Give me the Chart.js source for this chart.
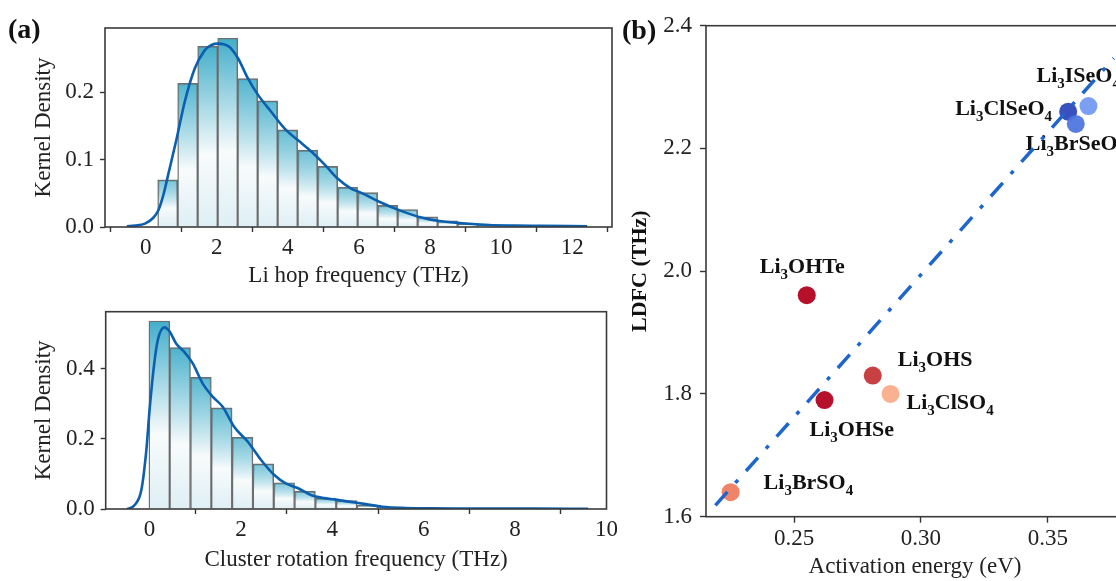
<!DOCTYPE html>
<html><head><meta charset="utf-8">
<script src="https://cdn.jsdelivr.net/npm/chart.js@4.4.1/dist/chart.umd.min.js"></script>
<style>
html,body{margin:0;padding:0;background:#fff;overflow:hidden;}
#wrap{position:relative;width:1116px;height:581px;overflow:hidden;background:#fff;}
canvas{position:absolute;}
.panel{position:absolute;font-family:'Liberation Serif',serif;font-weight:bold;font-size:28px;line-height:34px;color:#111;}
</style></head>
<body><div id="wrap">
<canvas id="c1" width="620" height="290" style="left:0;top:0"></canvas>
<canvas id="c2" width="620" height="291" style="left:0;top:290px"></canvas>
<canvas id="c3" width="520" height="581" style="left:620px;top:0"></canvas>
<div class="panel" style="left:8px;top:12px">(a)</div>
<div class="panel" style="left:622px;top:13px">(b)</div>
</div>
<script>
// ---------- (a) top: Li hop frequency ----------
const hopBinCenters = [0.619, 1.181, 1.744, 2.307, 2.869, 3.432, 3.994, 4.557, 5.120, 5.682, 6.245, 6.808, 7.370, 7.933, 8.495, 9.058, 9.621, 10.183];
const hopDensity    = [0.070, 0.213, 0.268, 0.280, 0.220, 0.187, 0.144, 0.114, 0.090, 0.059, 0.051, 0.032, 0.026, 0.015, 0.009, 0.005, 0.003, 0.002];
const hopKdeX = [-0.53, -0.3, -0.02, 0.2, 0.35, 0.5, 0.63, 0.87, 1.10, 1.38, 1.66, 1.85, 2.04, 2.2, 2.36, 2.60, 2.88, 3.16, 3.53, 3.91, 4.28, 4.66, 5.03, 5.40, 5.78, 6.05, 6.57, 7.13, 7.69, 8.26, 8.91, 9.66, 10.4, 11.15, 12.42];
const hopKdeY = [0.001, 0.002, 0.005, 0.013, 0.024, 0.048, 0.077, 0.131, 0.186, 0.235, 0.262, 0.270, 0.272, 0.271, 0.267, 0.250, 0.220, 0.196, 0.171, 0.146, 0.129, 0.112, 0.093, 0.072, 0.057, 0.051, 0.0375, 0.025, 0.015, 0.009, 0.0055, 0.003, 0.0022, 0.0018, 0.001];
const hopTicks = [0, 2, 4, 6, 8, 10, 12];
const hopDensityTicks = [0, 0.1, 0.2];

// ---------- (a) bottom: Cluster rotation frequency ----------
const rotBinCenters = [0.213, 0.668, 1.124, 1.579, 2.035, 2.490, 2.946, 3.401, 3.857, 4.312, 4.768, 5.223, 5.679, 6.134];
const rotDensity    = [0.537, 0.461, 0.376, 0.289, 0.205, 0.129, 0.075, 0.051, 0.031, 0.024, 0.011, 0.006, 0.003, 0.002];
const rotKdeX = [-0.49, -0.33, -0.18, -0.07, 0.0, 0.094, 0.18, 0.327, 0.44, 0.58, 0.76, 0.945, 1.16, 1.38, 1.60, 1.85, 2.15, 2.44, 2.73, 2.98, 3.24, 3.53, 3.82, 4.11, 4.36, 4.73, 5.09, 5.6, 6.18, 6.91, 7.64, 8.36, 9.6];
const rotKdeY = [0.0, 0.011, 0.054, 0.169, 0.283, 0.407, 0.483, 0.519, 0.507, 0.473, 0.449, 0.416, 0.359, 0.321, 0.292, 0.235, 0.192, 0.140, 0.097, 0.073, 0.060, 0.040, 0.031, 0.026, 0.021, 0.014, 0.0066, 0.003, 0.002, 0.0015, 0.001, 0.001, 0.0005];
const rotTicks = [0, 2, 4, 6, 8, 10];
const rotDensityTicks = [0, 0.2, 0.4];

// ---------- (b) scatter ----------
const materials = ['Li3ISeO4', 'Li3ClSeO4', 'Li3BrSeO4', 'Li3OHTe', 'Li3OHS', 'Li3ClSO4', 'Li3OHSe', 'Li3BrSO4'];
const activationEnergy = [0.366, 0.358, 0.361, 0.255, 0.281, 0.288, 0.262, 0.225];
const ldfc = [2.269, 2.260, 2.240, 1.961, 1.830, 1.800, 1.790, 1.640];
const fitX = [0.219, 0.376];
const fitY = [1.6185, 2.347];
const energyTicks = [0.25, 0.30, 0.35];
const ldfcTicks = [1.6, 1.8, 2.0, 2.2, 2.4];

// styles (not data)
const pointColors = ['rgba(112,152,242,0.92)', 'rgba(40,66,185,0.92)', 'rgba(75,115,222,0.92)', 'rgba(178,4,32,0.95)', 'rgba(196,48,50,0.92)', 'rgba(250,170,135,0.92)', 'rgba(178,4,32,0.95)', 'rgba(238,122,92,0.92)'];
const labelOffsets = [[-52, -24], [-113, 3], [-50, 26], [-47, -22], [25, -10], [16, 15], [-15, 36], [33, -3]];

Chart.defaults.font.family = "'Liberation Serif', 'Times New Roman', serif";
Chart.defaults.color = '#222';

const frame = {
  id: 'frame',
  afterDatasetsDraw(chart) {
    const {ctx, chartArea: a} = chart;
    ctx.save();
    ctx.strokeStyle = '#3a3a3a';
    ctx.lineWidth = 1.6;
    ctx.strokeRect(a.left, a.top, a.right - a.left, a.bottom - a.top);
    ctx.restore();
  }
};

function barGradient(maxV) {
  return (c) => {
    const chart = c.chart;
    if (!chart.chartArea || c.type !== 'data') return 'rgba(75,180,205,0.8)';
    const ys = chart.scales.y;
    const v = c.raw.y;
    const top = ys.getPixelForValue(v), base = ys.getPixelForValue(0);
    if (!(base > top)) return 'rgba(120,195,215,0.8)';
    const g = chart.ctx.createLinearGradient(0, top, 0, base);
    const a = 0.6 + 0.4 * v / maxV;
    g.addColorStop(0, 'rgba(66,174,202,' + a + ')');
    g.addColorStop(0.6, 'rgba(248,251,252,1)');
    g.addColorStop(1, 'rgba(222,239,245,1)');
    return g;
  };
}

function histChart(id, centers, dens, kx, ky, o) {
  const maxV = Math.max(...dens);
  return new Chart(document.getElementById(id), {
    type: 'bar',
    data: {
      datasets: [
        { type: 'line', data: kx.map((x, i) => ({x, y: ky[i]})), borderColor: '#0b5fae', borderWidth: 2.6,
          pointRadius: 0, cubicInterpolationMode: 'monotone', fill: false, order: 0 },
        { type: 'bar', data: centers.map((x, i) => ({x, y: dens[i]})), backgroundColor: barGradient(maxV),
          borderColor: 'rgba(95,95,95,0.9)', borderWidth: 1.4, barPercentage: 1, categoryPercentage: 1, order: 1 }
      ]
    },
    options: {
      responsive: false, animation: false, devicePixelRatio: 1,
      layout: {padding: {top: o.padTop, right: o.padRight, left: 0, bottom: 0}},
      plugins: {legend: {display: false}, tooltip: {enabled: false}},
      scales: {
        x: {
          type: 'linear', min: o.xmin, max: o.xmax, offset: false,
          afterBuildTicks: s => { s.ticks = o.xticks.map(v => ({value: v})); },
          afterFit: s => { s.height = o.xh; },
          grid: {display: true, drawOnChartArea: false, drawTicks: true, tickLength: 5, tickColor: '#333', tickWidth: 1.4},
          border: {display: false},
          ticks: {padding: o.xtp, color: '#222', font: {size: 23}, maxRotation: 0, autoSkip: false, callback: v => String(v)},
          title: {display: true, text: o.xtitle, color: '#222', font: {size: 23}, padding: {top: 0, bottom: o.xtitlePad}}
        },
        y: {
          min: 0, max: o.ymax,
          afterBuildTicks: s => { s.ticks = o.yticks.map(v => ({value: v})); },
          afterFit: s => { s.width = o.yw; },
          grid: {display: true, drawOnChartArea: false, drawTicks: true, tickLength: 5, tickColor: '#333', tickWidth: 1.4},
          border: {display: false},
          ticks: {padding: 6, color: '#222', font: {size: 23}, callback: v => v.toFixed(1)},
          title: {display: true, text: 'Kernel Density', color: '#222', font: {size: 23}, padding: {top: 30, bottom: 0}}
        }
      }
    },
    plugins: [frame]
  });
}

histChart('c1', hopBinCenters, hopDensity, hopKdeX, hopKdeY, {
  padTop: 28, padRight: 8, xmin: -1.145, xmax: 13.12, xticks: hopTicks, xh: 63, xtp: 2,
  xtitle: 'Li hop frequency (THz)', xtitlePad: 0, ymax: 0.2952, yticks: hopDensityTicks, yw: 105
});
histChart('c2', rotBinCenters, rotDensity, rotKdeX, rotKdeY, {
  padTop: 21.7, padRight: 8.3, xmin: -0.96, xmax: 10.0, xticks: rotTicks, xh: 72, xtp: 2,
  xtitle: 'Cluster rotation frequency (THz)', xtitlePad: 7, ymax: 0.5637, yticks: rotDensityTicks, yw: 105.7
});

function drawChem(ctx, s, x, y) {
  ctx.textBaseline = 'alphabetic';
  ctx.textAlign = 'left';
  ctx.fillStyle = '#111';
  for (const part of s.match(/\d+|\D+/g)) {
    if (/\d/.test(part)) {
      ctx.font = "bold 15px 'Liberation Serif'";
      ctx.fillText(part, x, y + 6);
    } else {
      ctx.font = "bold 22px 'Liberation Serif'";
      ctx.fillText(part, x, y);
    }
    x += ctx.measureText(part).width;
  }
}

const chemLabels = {
  id: 'chemLabels',
  beforeDatasetsDraw(chart) {
    const {ctx} = chart;
    const xs = chart.scales.x, ys = chart.scales.y;
    ctx.save();
    materials.forEach((m, i) => {
      const px = xs.getPixelForValue(activationEnergy[i]) + labelOffsets[i][0];
      const py = ys.getPixelForValue(ldfc[i]) + labelOffsets[i][1];
      drawChem(ctx, m, px, py);
    });
    ctx.restore();
  }
};

new Chart(document.getElementById('c3'), {
  type: 'scatter',
  data: {
    datasets: [
      { type: 'line', data: fitX.map((x, i) => ({x, y: fitY[i]})), borderColor: '#1f66cc', borderWidth: 3.5,
        borderDash: [18, 12, 4, 12], pointRadius: 0, fill: false, order: 0 },
      { data: activationEnergy.map((x, i) => ({x, y: ldfc[i]})), pointRadius: 9, pointBackgroundColor: pointColors,
        pointBorderWidth: 0, showLine: false, order: 1 }
    ]
  },
  options: {
    responsive: false, animation: false, devicePixelRatio: 1,
    layout: {padding: {top: 25.7, right: 16, left: 0, bottom: 0}},
    plugins: {legend: {display: false}, tooltip: {enabled: false}},
    scales: {
      x: {
        type: 'linear', min: 0.2153, max: 0.38,
        afterBuildTicks: s => { s.ticks = energyTicks.map(v => ({value: v})); },
        afterFit: s => { s.height = 64.3; },
        grid: {display: true, drawOnChartArea: false, drawTicks: true, tickLength: 6, tickColor: '#333', tickWidth: 1.4},
        border: {display: false},
        ticks: {padding: 2, color: '#222', font: {size: 23}, maxRotation: 0, autoSkip: false, callback: v => v.toFixed(2)},
        title: {display: true, text: 'Activation energy (eV)', color: '#222', font: {size: 23}, padding: {top: 0, bottom: 0}}
      },
      y: {
        min: 1.6, max: 2.4,
        afterBuildTicks: s => { s.ticks = ldfcTicks.map(v => ({value: v})); },
        afterFit: s => { s.width = 86; },
        grid: {display: true, drawOnChartArea: false, drawTicks: true, tickLength: 6, tickColor: '#333', tickWidth: 1.4},
        border: {display: false},
        ticks: {padding: 8, color: '#222', font: {size: 23}, callback: v => v.toFixed(1)},
        title: {display: true, text: 'LDFC (THz)', color: '#111', font: {size: 22, weight: 'bold'}, padding: {top: 6.8, bottom: 0}}
      }
    }
  },
  plugins: [frame, chemLabels]
});
</script>
</body></html>
